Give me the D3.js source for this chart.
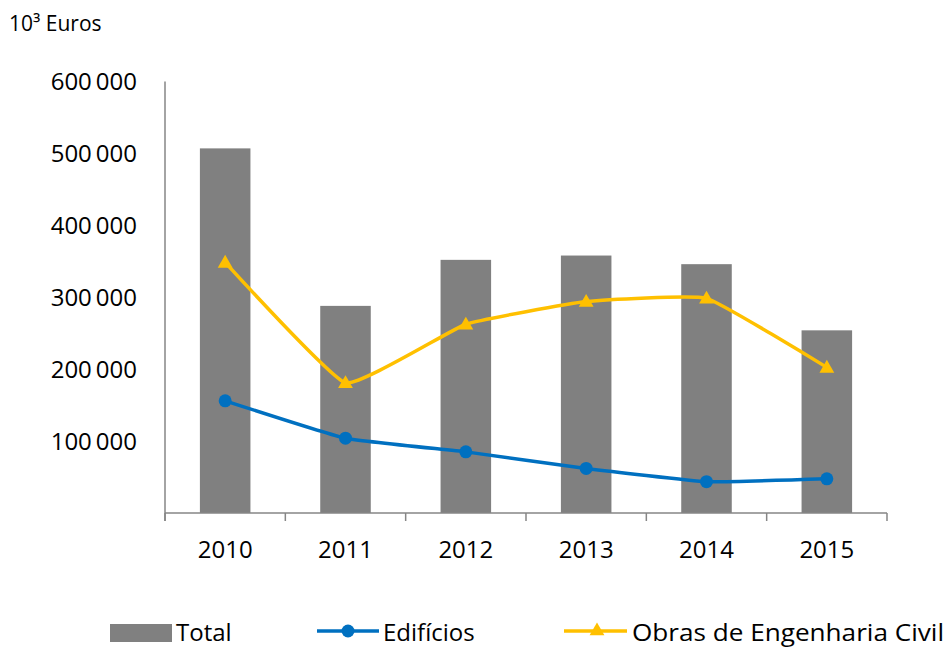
<!DOCTYPE html>
<html>
<head>
<meta charset="utf-8">
<script src="https://cdn.jsdelivr.net/npm/d3@7"></script>
<style>
  body { margin: 0; background: #fff; }
  text { font-family: "Open Sans", "Liberation Sans", sans-serif; fill: #000; }
</style>
</head>
<body>
<div id="chart"></div>
<script>
// data
var years = ["2010", "2011", "2012", "2013", "2014", "2015"];
var total = [507000, 288000, 352000, 358000, 346000, 254000];
var edificios = [156000, 104000, 85000, 62000, 43500, 47500];
var obras = [348500, 181000, 262500, 294000, 298500, 202500];
var yTicks = [100000, 200000, 300000, 400000, 500000, 600000];

var chart = function () {
  var width = 947, height = 647;
  var left = 165, right = 887, plotTop = 81.5, bottom = 513;

  var svg = d3.select("#chart").append("svg")
    .attr("width", width)
    .attr("height", height);

  var x = d3.scaleBand().domain(years).range([left, right]).paddingInner(0.58).paddingOuter(0.29);
  var xc = function(d) { return x(d) + x.bandwidth() / 2; };
  var y = d3.scaleLinear().domain([0, 600000]).range([bottom, plotTop]);

  // unit label
  svg.append("text")
    .attr("x", 9).attr("y", 31)
    .style("font-size", "21px")
    .text("10³ Euros");

  // bars
  svg.selectAll("rect.bar").data(total)
    .enter().append("rect")
    .attr("class", "bar")
    .attr("x", function(d, i) { return x(years[i]); })
    .attr("width", x.bandwidth())
    .attr("y", function(d) { return y(d); })
    .attr("height", function(d) { return y(0) - y(d); })
    .attr("fill", "#808080");

  // y axis: line and labels, no tick marks
  svg.append("line")
    .attr("x1", left).attr("x2", left)
    .attr("y1", y(600000)).attr("y2", bottom + 8)
    .attr("stroke", "#868686").attr("stroke-width", 1.5);

  var fmt = function(v) { return d3.format(",")(v).replace(/,/g, "\u2009"); };
  svg.selectAll("text.ylab").data(yTicks)
    .enter().append("text")
    .attr("class", "ylab")
    .attr("x", 137)
    .attr("y", function(d) { return y(d); })
    .attr("dy", "0.36em")
    .attr("text-anchor", "end")
    .style("font-size", "24px")
    .text(fmt);

  // x axis
  svg.append("line")
    .attr("x1", left).attr("x2", right)
    .attr("y1", bottom).attr("y2", bottom)
    .attr("stroke", "#868686").attr("stroke-width", 1.5);

  var bounds = years.map(function(d) { return x(d) - x.step() * x.paddingInner() / 2; });
  bounds.push(right);
  svg.selectAll("line.xtick").data(bounds)
    .enter().append("line")
    .attr("class", "xtick")
    .attr("x1", function(d) { return d; }).attr("x2", function(d) { return d; })
    .attr("y1", bottom).attr("y2", bottom + 8)
    .attr("stroke", "#868686").attr("stroke-width", 1.5);

  svg.selectAll("text.xlab").data(years)
    .enter().append("text")
    .attr("class", "xlab")
    .attr("x", xc)
    .attr("y", 558)
    .attr("text-anchor", "middle")
    .style("font-size", "24px")
    .text(function(d) { return d; });

  // lines, lightly smoothed
  var line = d3.line()
    .x(function(d, i) { return xc(years[i]); })
    .y(function(d) { return y(d); })
    .curve(d3.curveCardinal.tension(0.65));

  svg.append("path").datum(edificios)
    .attr("d", line)
    .attr("fill", "none").attr("stroke", "#0070C0").attr("stroke-width", 3.5);

  svg.append("path").datum(obras)
    .attr("d", line)
    .attr("fill", "none").attr("stroke", "#FFC000").attr("stroke-width", 3.5);

  svg.selectAll("circle.ed").data(edificios)
    .enter().append("circle")
    .attr("class", "ed")
    .attr("cx", function(d, i) { return xc(years[i]); })
    .attr("cy", function(d) { return y(d); })
    .attr("r", 6.5)
    .attr("fill", "#0070C0");

  var tri = d3.symbol().type(d3.symbolTriangle).size(95);
  svg.selectAll("path.ob").data(obras)
    .enter().append("path")
    .attr("class", "ob")
    .attr("d", tri)
    .attr("transform", function(d, i) { return "translate(" + xc(years[i]) + "," + (y(d) + 1) + ")"; })
    .attr("fill", "#FFC000");

  // legend
  var lg = svg.append("g");
  lg.append("rect").attr("x", 110).attr("y", 624).attr("width", 62).attr("height", 18).attr("fill", "#808080");
  lg.append("text").attr("x", 176).attr("y", 641).style("font-size", "24px").text("Total");

  lg.append("line").attr("x1", 317).attr("x2", 379).attr("y1", 631).attr("y2", 631)
    .attr("stroke", "#0070C0").attr("stroke-width", 3.5);
  lg.append("circle").attr("cx", 348).attr("cy", 631).attr("r", 6.5).attr("fill", "#0070C0");
  lg.append("text").attr("x", 383).attr("y", 641).style("font-size", "24px").text("Edifícios");

  lg.append("line").attr("x1", 564).attr("x2", 627).attr("y1", 631).attr("y2", 631)
    .attr("stroke", "#FFC000").attr("stroke-width", 3.5);
  lg.append("path").attr("d", tri).attr("transform", "translate(597,631)").attr("fill", "#FFC000");
  lg.append("text").attr("x", 632).attr("y", 641).style("font-size", "24px")
    .attr("textLength", 312).attr("lengthAdjust", "spacingAndGlyphs")
    .text("Obras de Engenharia Civil");
}();
</script>
</body>
</html>
